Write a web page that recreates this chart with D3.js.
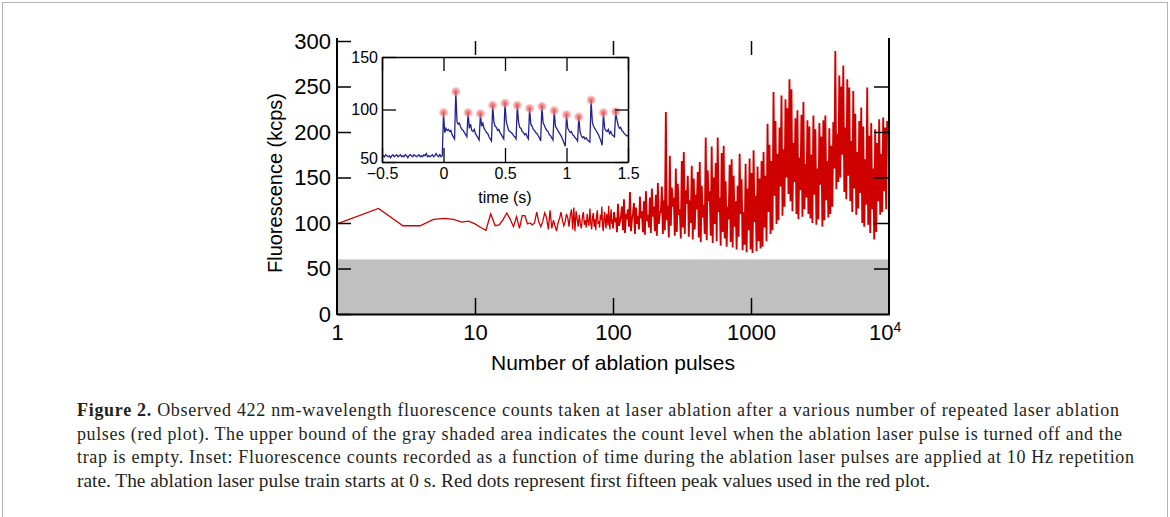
<!DOCTYPE html>
<html>
<head>
<meta charset="utf-8">
<script src="https://cdn.jsdelivr.net/npm/d3@7"></script>
<style>
  html, body { margin: 0; padding: 0; background: #fff; }
  svg { display: block; }
</style>
</head>
<body>
<div id="chart"></div>
<script>
// fluorescence (kcps), one value per pulse, pulses 1..100
const earlyCounts = [
  99, 116, 97, 97, 104, 105, 104, 101, 102, 99,
  95, 92, 110, 97, 98, 104, 111, 104, 96, 107,
  94, 108, 108, 99, 100, 98, 100, 112, 101, 96,
  102, 111, 106, 93, 114, 94, 103, 97, 91, 100,
  105, 112, 103, 97, 101, 110, 106, 96, 108, 115,
  93, 117, 91, 113, 104, 96, 109, 99, 94, 107,
  112, 98, 103, 95, 110, 101, 97, 116, 100, 93,
  106, 111, 96, 104, 92, 108, 114, 99, 102, 95,
  109, 103, 118, 97, 91, 105, 112, 100, 94, 110,
  106, 97, 119, 101, 93, 108, 115, 99, 104, 96
];

// pulses 100 .. ~9700, too dense to read one by one:
const lateFirstPulse = 100;
const lateLastPulse = 9700;
const lateTroughs = [
  94, 101, 90, 97, 108, 92, 89, 104, 96, 91, 110, 88, 99, 93, 105, 90, 87, 102, 95, 89,
  107, 91, 86, 99, 112, 88, 92, 103, 84, 97, 118, 86, 90, 109, 83, 95, 88, 121, 85, 100,
  82, 93, 115, 84, 79, 106, 88, 81, 124, 86, 78, 99, 80, 112, 75, 90, 83, 74, 104, 79,
  73, 96, 71, 85, 110, 70, 76, 68, 92, 71, 67, 101, 69, 80, 72,
  74, 95, 80, 112, 88, 92, 130, 99, 103, 140, 108, 118, 150, 132, 124, 113, 145, 110, 104, 136,
  107, 115, 128, 110, 105,
  100, 131, 98, 104, 142, 96, 103, 125, 106, 110, 118, 160, 137, 145, 150, 175, 134, 126, 152, 124,
  112, 138, 109, 116, 133, 100, 96, 120, 98, 89, 115, 82, 90, 124, 109, 112, 135, 115
];
const latePeaks = [
  112, 106, 121, 102, 118, 126, 110, 115, 134, 104, 122, 117, 108, 129, 113, 124, 135, 109, 128, 138,
  118, 131, 144, 112, 140, 125, 222, 119, 174, 139, 128, 160, 143, 115, 168, 178, 136, 152, 125, 163,
  149, 131, 156, 167, 141, 120, 194, 158, 135, 184, 150, 166, 194, 128, 177, 185, 146, 118, 164, 170,
  152, 124, 141, 176, 148, 112, 165, 138, 171, 155, 180, 130, 162, 149, 168,
  178, 152, 209, 186, 168, 244, 212, 176, 205, 240, 181, 236, 226, 258, 247, 188, 215, 224, 172, 219,
  233, 165, 213, 206, 175, 218, 203, 160, 210, 195, 213, 218, 168, 204, 185, 211, 289, 198, 262, 250,
  273, 205, 258, 249, 190, 245, 220, 178, 212, 227, 206, 170, 249, 196, 210, 160, 203, 188, 214, 176,
  216, 205, 212
];
const emptyTrapLevel = 60;

// inset: counts every 10 ms from -0.5 s to 1.5 s
const insetStart = -0.5;
const insetStep = 0.01;
const insetCounts = [
  55, 56, 55, 57, 56, 55, 56, 54, 56, 57, 55, 56, 57, 55, 56, 57, 55, 56, 55, 57,
  56, 54, 56, 57, 56, 55, 57, 56, 55, 56, 57, 55, 56, 55, 57, 56, 58, 55, 56, 55,
  56, 57, 55, 56, 58, 56, 55, 57, 55, 56,
  97, 78, 82, 80, 81, 79, 80, 76, 74, 72,
  117, 88, 86, 87, 83, 81, 80, 78, 76, 74,
  97, 82, 86, 80, 79, 81, 77, 75, 73, 71,
  96, 84, 87, 82, 80, 78, 77, 74, 72, 70,
  104, 88, 84, 83, 80, 81, 78, 76, 74, 72,
  106, 89, 84, 80, 79, 78, 77, 75, 74, 72,
  104, 88, 83, 82, 79, 78, 76, 77, 74, 72,
  101, 86, 84, 81, 80, 78, 77, 75, 73, 70,
  103, 87, 85, 82, 80, 79, 76, 75, 73, 71,
  99, 84, 82, 80, 78, 76, 74, 71, 68, 65,
  95, 82, 80, 78, 79, 76, 75, 73, 72, 70,
  93, 79, 75, 73, 74, 72, 73, 71, 70, 69,
  109, 88, 84, 82, 80, 78, 76, 73, 70, 66,
  97, 82, 80, 79, 81, 77, 79, 76, 75, 74,
  98, 90, 85, 82, 83, 80, 79, 77, 76, 75,
  75
];
const peakTimes = [0, 0.1, 0.2, 0.3, 0.4, 0.5, 0.6, 0.7, 0.8, 0.9, 1.0, 1.1, 1.2, 1.3, 1.4];
const peakCounts = [97, 117, 97, 96, 104, 106, 104, 101, 103, 99, 95, 93, 109, 97, 98];

const yTicks = [0, 50, 100, 150, 200, 250, 300];
const xTicks = [1, 10, 100, 1000, 10000];
const xInnerTicks = [10, 100, 1000];
const insetXTicks = [-0.5, 0, 0.5, 1, 1.5];
const insetYTicks = [50, 100, 150];

const captionLines = [
  "Observed 422 nm-wavelength fluorescence counts taken at laser ablation after a various number of repeated laser ablation",
  "pulses (red plot). The upper bound of the gray shaded area indicates the count level when the ablation laser pulse is turned off and the",
  "trap is empty. Inset: Fluorescence counts recorded as a function of time during the ablation laser pulses are applied at 10 Hz repetition",
  "rate. The ablation laser pulse train starts at 0 s. Red dots represent first fifteen peak values used in the red plot."
];
// right end of each caption line in the figure (justified block)
const captionEnds = [1119, 1122, 1134, 930];

const W = 1170, H = 517;
const plot = { left: 337, right: 889, top: 41, bottom: 314 };
const ins = { left: 382, right: 628, top: 57, bottom: 162 };
const sans = "'Liberation Sans', Arial, Helvetica, sans-serif";
const red = "#cf0000";

const svg = d3.select("#chart").append("svg")
  .attr("width", W).attr("height", H)
  .style("font-family", sans);

// figure frame
svg.append("rect")
  .attr("x", 2.5).attr("y", 2.5)
  .attr("width", W - 5).attr("height", H + 20)
  .attr("fill", "none").attr("stroke", "#b4b4b4");

const x = d3.scaleLog().domain([1, 1e4]).range([plot.left, plot.right]);
const y = d3.scaleLinear().domain([0, 300]).range([plot.bottom, plot.top]);

// gray band: level with the ablation laser off
svg.append("rect")
  .attr("x", x(1)).attr("y", y(emptyTrapLevel))
  .attr("width", x(1e4) - x(1)).attr("height", y(0) - y(emptyTrapLevel))
  .attr("fill", "#c0c0c0");

// red series: single pulses first, then the dense part
const earlySeries = earlyCounts.map((v, i) => ({ p: i + 1, v }));
const lateSeries = [];
const lg0 = Math.log10(lateFirstPulse), lg1 = Math.log10(lateLastPulse);
const dl = (lg1 - lg0) / (2 * latePeaks.length - 1);
latePeaks.forEach((pk, i) => {
  lateSeries.push({ p: Math.pow(10, lg0 + 2 * i * dl), v: lateTroughs[i] });
  lateSeries.push({ p: Math.pow(10, lg0 + (2 * i + 1) * dl), v: pk });
});

const line = d3.line().x(d => x(d.p)).y(d => y(d.v));
svg.append("path")
  .datum(earlySeries)
  .attr("fill", "none").attr("stroke", red).attr("stroke-width", 1.3)
  .attr("d", line);
svg.append("path")
  .datum([earlySeries[earlySeries.length - 1]].concat(lateSeries))
  .attr("fill", "none").attr("stroke", red).attr("stroke-width", 1.85)
  .attr("d", line);

// axes (ticks point inward, no top line)
const gL = svg.append("g").attr("transform", `translate(${plot.left},0)`)
  .call(d3.axisLeft(y).tickValues(yTicks).tickSizeInner(-14).tickSizeOuter(0).tickPadding(6));
const gR = svg.append("g").attr("transform", `translate(${plot.right},0)`)
  .call(d3.axisRight(y).tickValues(yTicks.slice(1, -1)).tickSizeInner(-15).tickSizeOuter(0).tickFormat(""));
const gB = svg.append("g").attr("transform", `translate(0,${plot.bottom})`)
  .call(d3.axisBottom(x).tickValues(xTicks).tickSizeInner(-16).tickSizeOuter(0).tickPadding(10)
    .tickFormat(d => d === 10000 ? "10" : d3.format("d")(d)));
const gT = svg.append("g").attr("transform", `translate(0,${plot.top})`)
  .call(d3.axisTop(x).tickValues(xInnerTicks).tickSizeInner(-14).tickSizeOuter(0).tickFormat(""));
gT.select(".domain").remove();
gB.selectAll(".tick").filter(d => d === 1 || d === 10000).select("line").remove();

[gL, gR, gB, gT].forEach(g => {
  g.select(".domain").attr("stroke", "#000").attr("stroke-width", 2);
  g.selectAll(".tick line").attr("stroke", "#000").attr("stroke-width", 1.5);
  g.selectAll("text").attr("fill", "#000").style("font-size", "22px").style("font-family", sans);
});
// left and right lines run the full height
gL.select(".domain").attr("d", `M0,${plot.bottom + 1}V${plot.top - 3}`);
gR.select(".domain").attr("d", `M0,${plot.bottom + 1}V${plot.top - 3}`);

// 10^4 label with superscript
gB.selectAll(".tick").filter(d => d === 10000).select("text")
  .attr("dx", "-0.2em")
  .append("tspan").attr("dy", "-0.55em").style("font-size", "14px").text("4");

svg.append("text")
  .attr("transform", `translate(275,183) rotate(-90)`)
  .attr("text-anchor", "middle").attr("dy", "0.35em")
  .style("font-size", "20px")
  .text("Fluorescence (kcps)");

svg.append("text")
  .attr("x", (plot.left + plot.right) / 2).attr("y", 363)
  .attr("text-anchor", "middle").attr("dy", "0.35em")
  .style("font-size", "21px")
  .text("Number of ablation pulses");

// ---------- inset ----------
const xi = d3.scaleLinear().domain([-0.5, 1.5]).range([ins.left, ins.right]);
const yi = d3.scaleLinear().domain([50, 150]).range([ins.bottom, ins.top]);

svg.append("rect")
  .attr("x", ins.left).attr("y", ins.top)
  .attr("width", ins.right - ins.left).attr("height", ins.bottom - ins.top)
  .attr("fill", "#fff");

const insetSeries = insetCounts.map((v, i) => ({ t: insetStart + i * insetStep, v }));
svg.append("path")
  .datum(insetSeries)
  .attr("fill", "none")
  .attr("stroke", "#232390")
  .attr("stroke-width", 1.3)
  .attr("d", d3.line().x(d => xi(d.t)).y(d => yi(d.v)));

const defs = svg.append("defs");
const grad = defs.append("radialGradient").attr("id", "dotFill");
grad.append("stop").attr("offset", "0%").attr("stop-color", "#e84a4a").attr("stop-opacity", 0.85);
grad.append("stop").attr("offset", "60%").attr("stop-color", "#f07878").attr("stop-opacity", 0.7);
grad.append("stop").attr("offset", "100%").attr("stop-color", "#f6aaaa").attr("stop-opacity", 0.3);

svg.append("g").selectAll("circle")
  .data(peakTimes.map((t, i) => ({ t, v: peakCounts[i] })))
  .join("circle")
  .attr("cx", d => xi(d.t)).attr("cy", d => yi(d.v))
  .attr("r", 4.8)
  .attr("fill", "url(#dotFill)");

const giB = svg.append("g").attr("transform", `translate(0,${ins.bottom})`)
  .call(d3.axisBottom(xi).tickValues(insetXTicks).tickSizeInner(-14).tickSizeOuter(0).tickPadding(6)
    .tickFormat(d => d3.format("")(d).replace("-", "\u2212")));
const giT = svg.append("g").attr("transform", `translate(0,${ins.top})`)
  .call(d3.axisTop(xi).tickValues(insetXTicks).tickSizeInner(-14).tickSizeOuter(0).tickFormat(""));
const giL = svg.append("g").attr("transform", `translate(${ins.left},0)`)
  .call(d3.axisLeft(yi).tickValues(insetYTicks).tickSizeInner(-14).tickSizeOuter(0).tickPadding(4));
const giR = svg.append("g").attr("transform", `translate(${ins.right},0)`)
  .call(d3.axisRight(yi).tickValues(insetYTicks).tickSizeInner(-13).tickSizeOuter(0).tickFormat(""));

[giB, giT, giL, giR].forEach(g => {
  g.select(".domain").attr("stroke", "#000").attr("stroke-width", 1.6);
  g.selectAll(".tick line").attr("stroke", "#000").attr("stroke-width", 1.3);
  g.selectAll("text").attr("fill", "#000").style("font-size", "16px").style("font-family", sans);
});
// the lowest y label sits just above the x labels
giL.selectAll(".tick").filter(d => d === 50).select("text").attr("dy", "0.12em");

svg.append("text")
  .attr("x", (ins.left + ins.right) / 2).attr("y", 197)
  .attr("text-anchor", "middle").attr("dy", "0.35em")
  .style("font-size", "16px")
  .text("time (s)");

// ---------- caption ----------
const serif = "'Liberation Serif', 'Times New Roman', serif";
const capX = 77, capY0 = 416, capLH = 23.6;
captionLines.forEach((txt, i) => {
  const t = svg.append("text")
    .attr("x", capX).attr("y", capY0 + i * capLH)
    .style("font-family", serif).style("font-size", "18px").attr("fill", "#231f20")
    .attr("textLength", captionEnds[i] - capX)
    .attr("lengthAdjust", i < 3 ? "spacing" : "spacingAndGlyphs");
  if (i === 0) {
    t.append("tspan").style("font-weight", "bold").text("Figure 2. ");
  }
  t.append("tspan").text(txt);
});
</script>
</body>
</html>
